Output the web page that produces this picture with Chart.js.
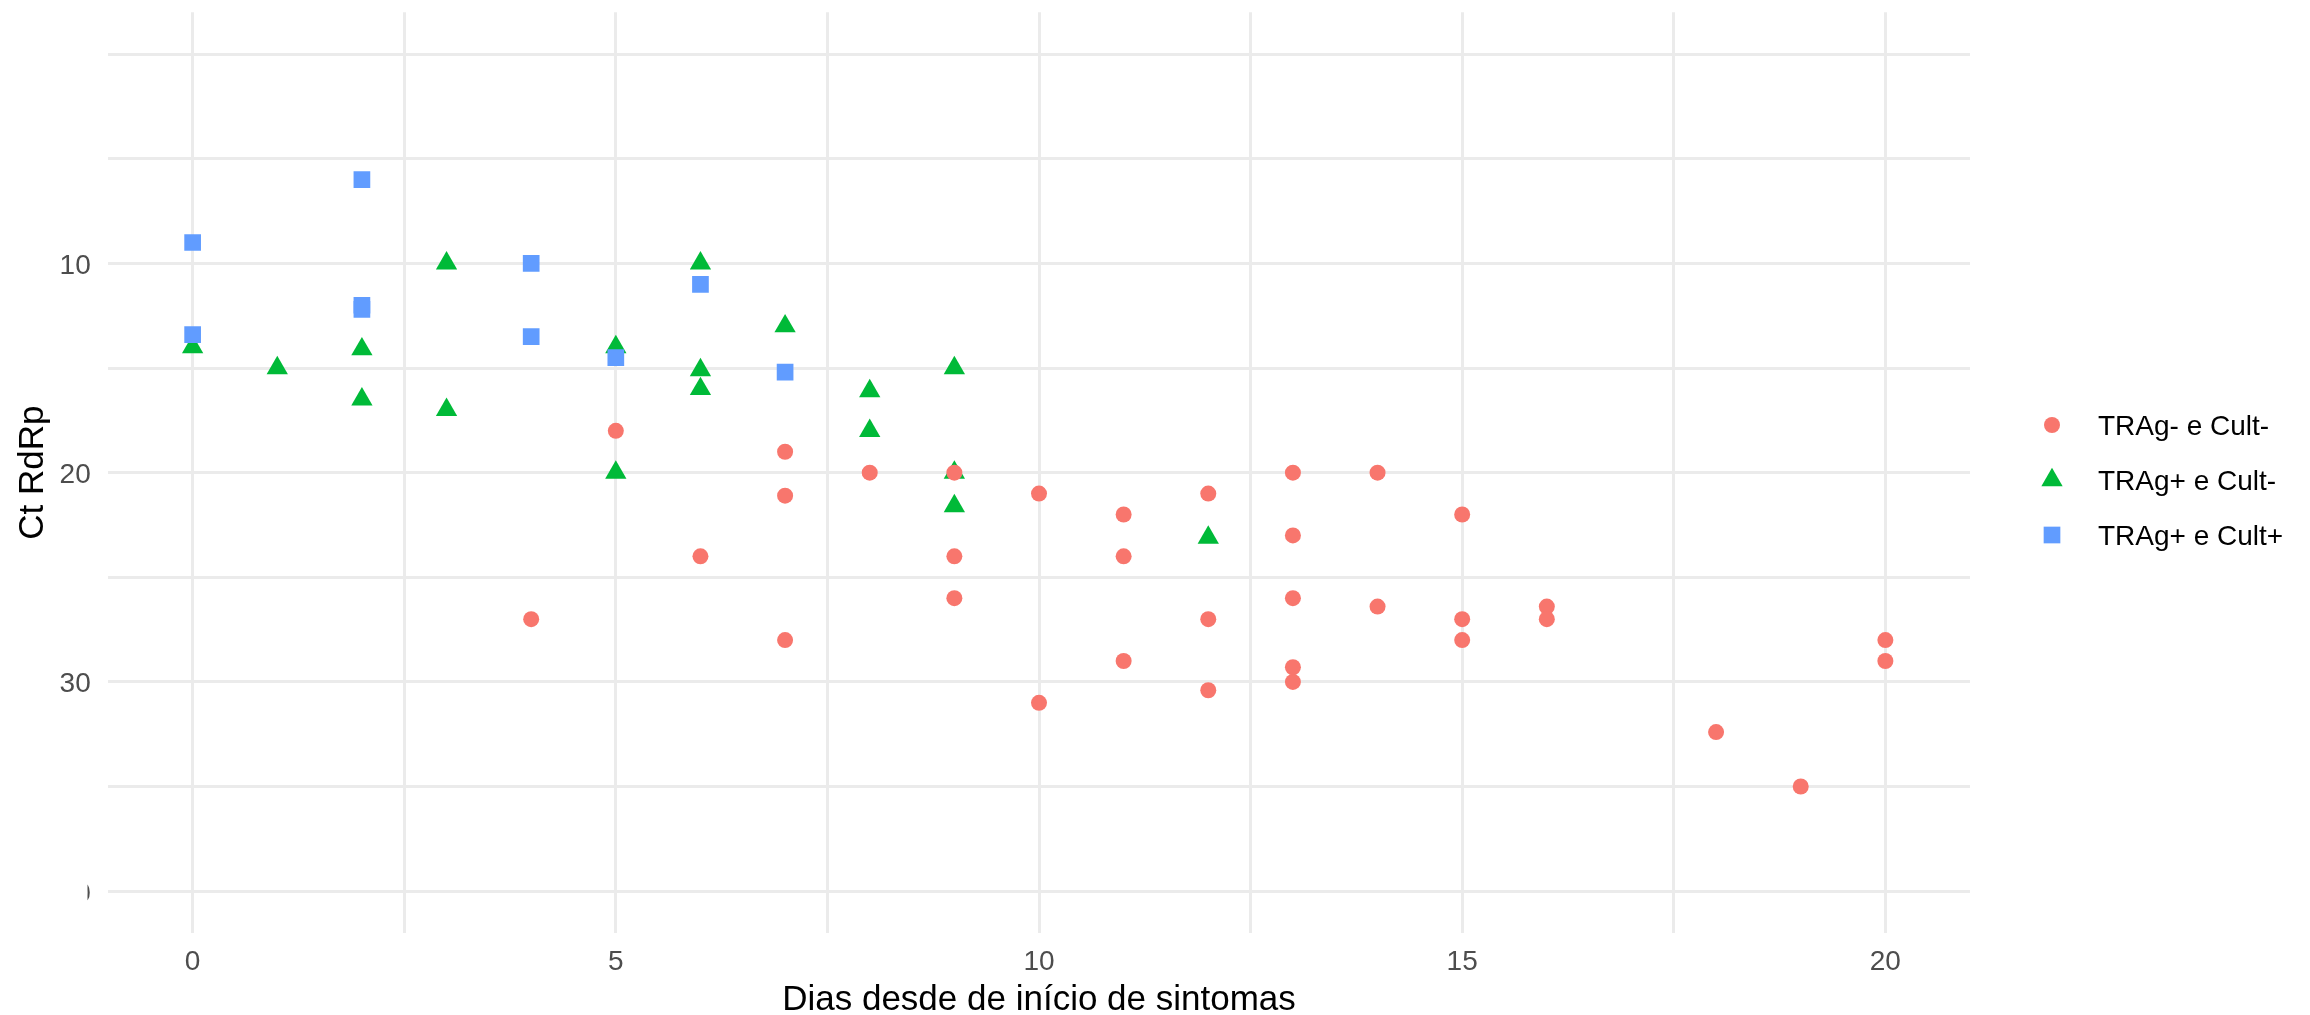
<!DOCTYPE html>
<html>
<head>
<meta charset="utf-8">
<script src="https://cdn.jsdelivr.net/npm/chart.js@4.4.1/dist/chart.umd.min.js"></script>
<style>
  html, body { margin: 0; padding: 0; background: #fff; }
  canvas { display: block; }
</style>
</head>
<body>
<canvas id="grafico" width="2310" height="1015"></canvas>
<script>
// TRAg- e Cult-
const negDias = [4, 5, 6, 7, 7, 7, 8, 9, 9, 9, 10, 10, 11, 11, 11, 12, 12, 12, 13, 13, 13, 13, 13, 14, 14, 15, 15, 15, 16, 16, 18, 19, 20, 20];
const negCt = [27, 18, 24, 19, 21.1, 28, 20, 20, 24, 26, 21, 31, 22, 24, 29, 21, 27, 30.4, 20, 23, 26, 29.3, 30, 20, 26.4, 22, 27, 28, 26.4, 27, 32.4, 35, 28, 29];

// TRAg+ e Cult-
const posNegDias = [0, 1, 2, 2, 3, 3, 5, 5, 6, 6, 6, 7, 8, 8, 9, 9, 9, 12];
const posNegCt = [14, 15, 14.1, 16.5, 10, 17, 14, 20, 10, 15.1, 16, 13, 16.1, 18, 15, 20, 21.6, 23.1];

// TRAg+ e Cult+
const posPosDias = [0, 0, 2, 2, 2, 4, 4, 5, 6, 7];
const posPosCt = [9, 13.4, 6, 12, 12.2, 10, 13.5, 14.5, 11, 15.2];

// linhas de grade e rotulos
const xGrade = [0, 2.5, 5, 7.5, 10, 12.5, 15, 17.5, 20];
const xRotulos = [0, 5, 10, 15, 20];
const yGrade = [0, 5, 10, 15, 20, 25, 30, 35, 40];
const yRotulos = [10, 20, 30, 40];

const tituloX = 'Dias desde de início de sintomas';
const tituloY = 'Ct RdRp';

const fonte = 'Liberation Sans, Arial, Helvetica, sans-serif';

function pontos(xs, ys) {
  return xs.map((x, i) => ({ x: x, y: ys[i] }));
}

// desenha a forma do ponto na legenda (fallback se helpers nao existir)
function desenhaForma(ctx, estilo, r, x, y) {
  if (Chart.helpers && Chart.helpers.drawPoint) {
    Chart.helpers.drawPoint(ctx, { pointStyle: estilo, radius: r, rotation: 0, borderWidth: 0 }, x, y);
    return;
  }
  ctx.beginPath();
  if (estilo === 'circle') {
    ctx.arc(x, y, r, 0, Math.PI * 2);
  } else if (estilo === 'triangle') {
    ctx.moveTo(x, y - r);
    ctx.lineTo(x + r * Math.sin(2 * Math.PI / 3), y + r / 2);
    ctx.lineTo(x - r * Math.sin(2 * Math.PI / 3), y + r / 2);
    ctx.closePath();
  } else {
    const s = Math.SQRT1_2 * r;
    ctx.rect(x - s, y - s, 2 * s, 2 * s);
  }
  ctx.fill();
}

const legenda = {
  id: 'legendaDireita',
  afterDraw(chart) {
    const ctx = chart.ctx;
    ctx.save();
    chart.data.datasets.forEach((ds, i) => {
      const y = 425 + i * 55;
      ctx.fillStyle = ds.backgroundColor;
      desenhaForma(ctx, ds.pointStyle, ds.pointRadius, 2052, y);
      ctx.fillStyle = '#000';
      ctx.font = '28px ' + fonte;
      ctx.textAlign = 'left';
      ctx.textBaseline = 'alphabetic';
      ctx.fillText(ds.label, 2098, y + 10);
    });
    ctx.restore();
  }
};

// rotulos e titulos dos eixos (estilo ggplot)
const eixos = {
  id: 'eixosGgplot',
  afterDraw(chart) {
    const ctx = chart.ctx;
    const sx = chart.scales.x, sy = chart.scales.y;
    const area = chart.chartArea;
    ctx.save();
    ctx.fillStyle = '#4D4D4D';
    ctx.font = '28px ' + fonte;
    ctx.textBaseline = 'alphabetic';

    ctx.textAlign = 'center';
    xRotulos.forEach(v => ctx.fillText(String(v), sx.getPixelForValue(v), 970));

    // o rotulo 40 aparece cortado no original
    ctx.textAlign = 'right';
    yRotulos.forEach(v => {
      const y = sy.getPixelForValue(v);
      ctx.save();
      if (v === 40) {
        ctx.beginPath();
        ctx.rect(87.5, y - 30, 40, 60);
        ctx.clip();
      }
      ctx.fillText(String(v), 90.7, y + 10.5);
      ctx.restore();
    });

    ctx.fillStyle = '#000';
    ctx.font = '35px ' + fonte;
    ctx.textAlign = 'center';
    ctx.fillText(tituloX, (area.left + area.right) / 2, 1010);

    ctx.translate(43.3, (area.top + area.bottom) / 2);
    ctx.rotate(-Math.PI / 2);
    ctx.fillText(tituloY, 0, 0);
    ctx.restore();
  }
};

new Chart(document.getElementById('grafico'), {
  type: 'scatter',
  data: {
    datasets: [
      {
        label: 'TRAg- e Cult-',
        data: pontos(negDias, negCt),
        pointStyle: 'circle',
        pointRadius: 8,
        backgroundColor: '#F8766D',
        borderWidth: 0,
        order: 0
      },
      {
        label: 'TRAg+ e Cult-',
        data: pontos(posNegDias, posNegCt),
        pointStyle: 'triangle',
        pointRadius: 12.3,
        backgroundColor: '#00BA38',
        borderWidth: 0,
        order: 2
      },
      {
        label: 'TRAg+ e Cult+',
        data: pontos(posPosDias, posPosCt),
        pointStyle: 'rect',
        pointRadius: 11.8,
        backgroundColor: '#619CFF',
        borderWidth: 0,
        order: 1
      }
    ]
  },
  options: {
    responsive: false,
    animation: false,
    layout: { padding: { left: 0, right: 340, top: 10, bottom: 0 } },
    plugins: {
      legend: { display: false },
      tooltip: { enabled: false }
    },
    elements: { point: { borderWidth: 0, hoverRadius: 0 } },
    scales: {
      x: {
        type: 'linear',
        min: -1,
        max: 21,
        afterFit(s) {
          s.height = 82;
          s.paddingLeft = 0;
          s.paddingRight = 0;
        },
        afterBuildTicks(s) { s.ticks = xGrade.map(v => ({ value: v })); },
        grid: { color: '#EBEBEB', lineWidth: 3, drawTicks: false },
        border: { display: false },
        ticks: { display: false },
        title: { display: false }
      },
      y: {
        type: 'linear',
        reverse: true,
        min: -2,
        max: 42,
        afterFit(s) {
          s.width = 108;
          s.paddingTop = 0;
          s.paddingBottom = 0;
        },
        afterBuildTicks(s) { s.ticks = yGrade.map(v => ({ value: v })); },
        grid: { color: '#EBEBEB', lineWidth: 3, drawTicks: false },
        border: { display: false },
        ticks: { display: false },
        title: { display: false }
      }
    }
  },
  plugins: [eixos, legenda]
});
</script>
</body>
</html>
